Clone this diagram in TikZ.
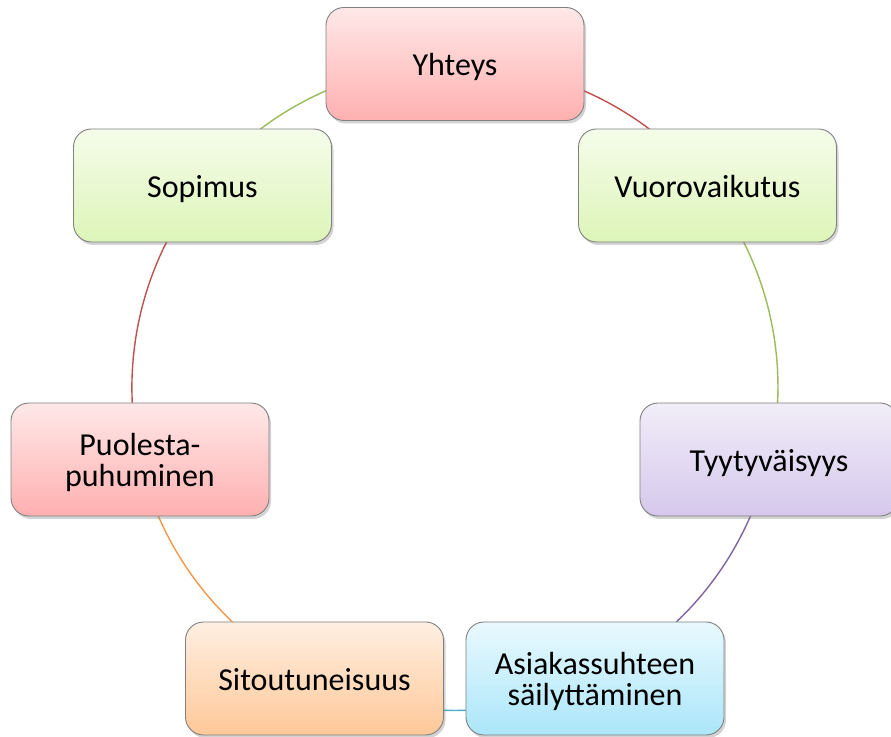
\documentclass[tikz,border=0pt]{standalone}
\usepackage{fontspec}
\setmainfont{Carlito}
\usetikzlibrary{shadows,backgrounds}
\definecolor{lnred}{HTML}{C0504D}
\definecolor{lngreen}{HTML}{9BBB59}
\definecolor{lnpurple}{HTML}{8064A2}
\definecolor{lnblue}{HTML}{4BACC6}
\definecolor{lnorange}{HTML}{F79646}
\definecolor{pinkT}{HTML}{FFE8E8}
\definecolor{pinkB}{HTML}{FFB0B0}
\definecolor{greenT}{HTML}{F5FCEA}
\definecolor{greenB}{HTML}{DDF5B8}
\definecolor{purpT}{HTML}{F1EDF8}
\definecolor{purpB}{HTML}{D5C8EC}
\definecolor{blueT}{HTML}{E8F9FE}
\definecolor{blueB}{HTML}{ABE6FA}
\definecolor{orT}{HTML}{FFEFE2}
\definecolor{orB}{HTML}{FFC898}
\newcommand\cbtext[1]{\raisebox{-5pt}[\height][\depth]{\begin{tabular}{@{}c@{}}#1\end{tabular}}}
\begin{document}
\begin{tikzpicture}[x=1pt,y=1pt,
  cbox/.style={draw=black!50, line width=0.9pt, rounded corners=18pt,
    minimum width=258pt, minimum height=113pt, inner sep=0pt,
    font=\fontsize{32}{30}\selectfont,
    drop shadow={shadow xshift=2pt, shadow yshift=-3pt, opacity=0.35}},
  pinkbox/.style={cbox, top color=pinkT, bottom color=pinkB},
  greenbox/.style={cbox, top color=greenT, bottom color=greenB},
  purpbox/.style={cbox, top color=purpT, bottom color=purpB},
  bluebox/.style={cbox, top color=blueT, bottom color=blueB},
  orbox/.style={cbox, top color=orT, bottom color=orB},
  ring/.style={line width=1.4pt}]
\useasboundingbox (0,0) rectangle (891,736);
\node[pinkbox]   (yh) at (455,672)   {\cbtext{Yhteys}};
\node[greenbox]  (vu) at (707.5,550.5) {\cbtext{Vuorovaikutus}};
\node[purpbox]   (ty) at (769,276.5) {\cbtext{Tyytyväisyys}};
\node[bluebox]   (as) at (595,57.5)  {\cbtext{Asiakassuhteen\\säilyttäminen}};
\node[orbox]     (si) at (314.5,57.5) {\cbtext{Sitoutuneisuus}};
\node[pinkbox]   (pu) at (140,276.5) {\cbtext{Puolesta-\\puhuminen}};
\node[greenbox]  (so) at (202.5,550.5) {\cbtext{Sopimus}};
\begin{pgfonlayer}{background}
\draw[ring, lnred]    (yh.center) arc[start angle=90, delta angle=-51.43, radius=323];
\draw[ring, lngreen]  (vu.center) arc[start angle=38.57, delta angle=-51.43, radius=323];
\draw[ring, lnpurple] (ty.center) arc[start angle=-12.86, delta angle=-51.43, radius=323];
\draw[ring, lnblue]   (as.center) arc[start angle=-64.29, delta angle=-51.43, radius=323];
\draw[ring, lnorange] (si.center) arc[start angle=-115.71, delta angle=-51.43, radius=323];
\draw[ring, lnred]    (pu.center) arc[start angle=-167.14, delta angle=-51.43, radius=323];
\draw[ring, lngreen]  (so.center) arc[start angle=141.43, delta angle=-51.43, radius=323];
\end{pgfonlayer}
\end{tikzpicture}
\end{document}
